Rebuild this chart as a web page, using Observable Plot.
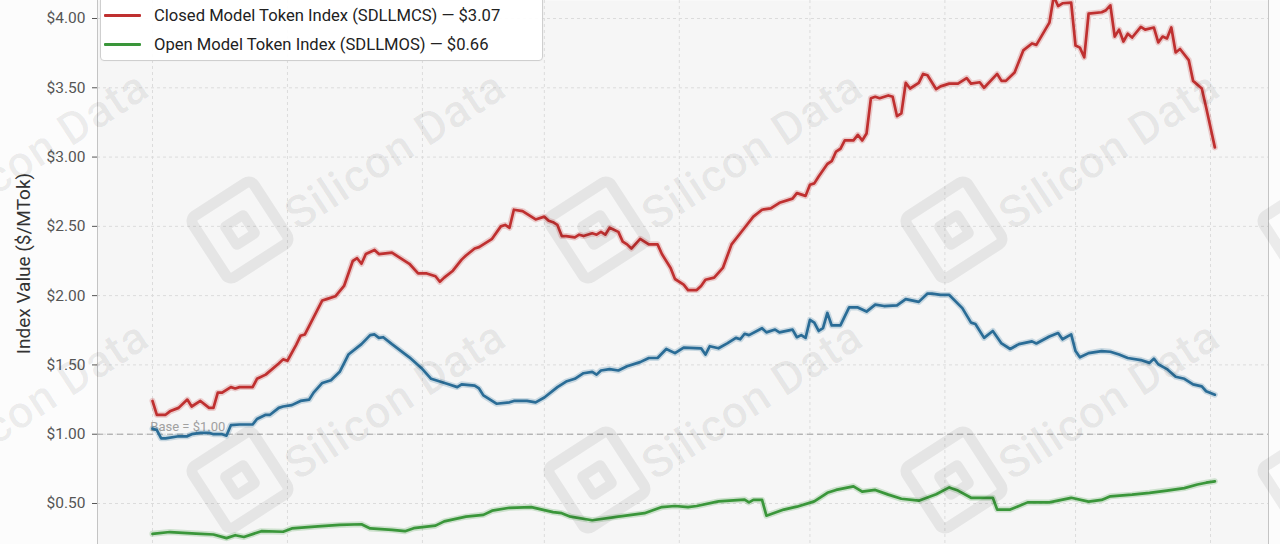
<!DOCTYPE html>
<html>
<head>
<meta charset="utf-8">
<script src="https://cdn.jsdelivr.net/npm/d3@7"></script>
<script src="https://cdn.jsdelivr.net/npm/@observablehq/plot@0.6"></script>
<style>
  html, body { margin: 0; padding: 0; background: #fcfcfc; }
  #wrap { position: relative; width: 1280px; height: 544px; overflow: hidden; font-family: Roboto, "Noto Sans", sans-serif; }
  #chart svg { display: block; }
  #legend { position: absolute; left: 100px; top: -30px; width: 441px; height: 89px; background: rgba(255,255,255,0.92);
            border: 1px solid #cfcfcf; border-radius: 4px; box-shadow: 0 0 2px rgba(0,0,0,0.05); }
  .lg-row { position: absolute; left: 0; height: 20px; display: flex; align-items: center; font-size: 16.6px; color: #222; white-space: nowrap; }
  .lg-sw { width: 37px; height: 3px; margin-left: 3px; margin-right: 13px; border-radius: 1px; }
  #wm { position: absolute; left: 0; top: 0; width: 1280px; height: 544px; pointer-events: none; }
  .wm-text { position: absolute; font-size: 45px; font-weight: 500; color: rgba(0,0,0,0.065); white-space: nowrap; transform: translate(-50%,-50%) rotate(-33deg); font-family: Roboto, sans-serif; letter-spacing: 1px; }
  .wm-logo { position: absolute; width: 62px; height: 62px; border: 11px solid rgba(0,0,0,0.065); border-radius: 12px; transform: translate(-50%,-50%) rotate(-33deg); }
  .wm-logo::after { content: ""; position: absolute; left: 15px; top: 15px; width: 32px; height: 32px; border: 10px solid rgba(0,0,0,0.065); border-radius: 6px; box-sizing: border-box; }
</style>
</head>
<body>
<div id="wrap">
  <div id="chart"></div>
  <div id="wm"></div>
  <div id="legend"></div>
</div>
<script>
// ---- Data (day offsets from 1 Dec; values in $/MTok) ----
const monthDays = [0, 31, 62, 90, 121, 151, 182, 212, 243];
const yTicks = [0.5, 1.0, 1.5, 2.0, 2.5, 3.0, 3.5, 4.0];

const closedDays = [0,1,3,4,6,8,9,11,13,14,15,16,18,19,20,23,24,26,29,30,31,33,34,35,39,40,42,44,46,47,48,49,51,52,55,59,61,63,65,66,67,69,71,72,74,75,78,80,81,82,83,85,86,88,90,91,92,93,94,95,97,98,99,101,102,103,104,105,107,108,109,110,112,114,115,116,117,119,120,122,123,125,126,127,129,131,133,136,138,140,142,144,147,148,150,151,152,153,155,156,157,158,159,161,162,163,164,165,166,167,169,170,171,172,173,174,176,177,178,180,181,183,185,187,188,190,191,194,195,196,198,200,202,203,206,207,208,209,211,212,213,214,215,218,219,220,221,222,223,224,225,227,228,230,231,232,233,234,235,236,238,239,241,242,243,244];
const closedValues = [1.24,1.14,1.14,1.165,1.19,1.25,1.20,1.24,1.19,1.19,1.30,1.30,1.34,1.33,1.34,1.34,1.40,1.43,1.51,1.54,1.53,1.645,1.71,1.72,1.965,1.975,1.995,2.07,2.25,2.27,2.23,2.30,2.33,2.30,2.31,2.23,2.16,2.16,2.14,2.10,2.13,2.18,2.26,2.29,2.34,2.35,2.41,2.50,2.51,2.49,2.62,2.61,2.59,2.55,2.57,2.54,2.53,2.51,2.43,2.43,2.42,2.44,2.43,2.45,2.44,2.46,2.44,2.49,2.46,2.39,2.37,2.34,2.41,2.37,2.37,2.37,2.30,2.20,2.12,2.08,2.04,2.04,2.07,2.115,2.13,2.20,2.37,2.49,2.57,2.62,2.63,2.67,2.70,2.74,2.72,2.80,2.81,2.86,2.95,2.97,3.04,3.06,3.12,3.12,3.16,3.12,3.17,3.425,3.435,3.425,3.445,3.435,3.295,3.315,3.535,3.495,3.535,3.60,3.59,3.49,3.51,3.53,3.53,3.57,3.53,3.54,3.50,3.60,3.55,3.55,3.61,3.77,3.82,3.81,3.97,4.16,4.09,4.11,4.115,3.805,3.79,3.72,4.035,4.045,4.06,4.095,3.87,3.92,3.834,3.89,3.863,3.94,3.92,3.935,3.827,3.87,3.856,3.935,3.755,3.78,3.70,3.55,3.495,3.358,3.213,3.07];

const frontierDays = [0,1,2,3,6,8,9,11,13,14,16,17,18,20,23,24,26,27,29,30,32,34,36,37,39,41,43,45,48,50,51,52,53,55,59,62,64,68,70,71,74,75,76,79,82,83,86,88,90,93,95,97,99,101,102,103,105,107,109,112,114,116,118,120,122,126,127,128,130,132,134,135,136,137,140,141,143,144,147,148,149,150,151,152,153,154,155,156,158,160,162,164,166,168,171,173,176,178,179,181,183,186,188,189,191,193,195,197,199,202,203,206,208,209,211,212,213,215,218,220,222,224,227,229,230,231,233,235,237,239,241,242,244];
const frontierValues = [1.04,1.03,0.97,0.97,0.985,0.985,1.0,1.01,1.01,1.00,1.00,0.99,1.065,1.07,1.07,1.11,1.14,1.14,1.19,1.20,1.21,1.24,1.25,1.30,1.37,1.39,1.45,1.575,1.65,1.715,1.72,1.695,1.70,1.65,1.555,1.47,1.40,1.36,1.34,1.36,1.35,1.33,1.28,1.22,1.23,1.24,1.24,1.23,1.265,1.34,1.38,1.40,1.44,1.45,1.43,1.46,1.47,1.46,1.49,1.52,1.55,1.55,1.615,1.585,1.625,1.62,1.575,1.635,1.62,1.655,1.695,1.685,1.725,1.715,1.765,1.735,1.755,1.735,1.755,1.70,1.715,1.695,1.825,1.805,1.745,1.765,1.875,1.785,1.785,1.915,1.915,1.885,1.935,1.925,1.93,1.975,1.955,2.015,2.015,2.005,2.005,1.91,1.805,1.795,1.695,1.745,1.655,1.615,1.65,1.67,1.655,1.705,1.73,1.685,1.72,1.60,1.555,1.585,1.60,1.595,1.575,1.55,1.535,1.515,1.545,1.505,1.47,1.415,1.40,1.36,1.345,1.31,1.285];

const openDays = [0,4,10,14,17,19,21,25,30,32,38,43,48,50,55,58,60,65,67,72,76,78,82,87,92,94,96,101,107,113,117,120,123,125,130,136,137,138,140,141,145,148,152,155,157,161,163,166,169,172,176,180,183,185,188,193,194,197,201,206,211,215,218,220,225,229,233,237,240,242,244];
const openValues = [0.281,0.294,0.283,0.276,0.25,0.271,0.258,0.30,0.296,0.32,0.335,0.345,0.35,0.32,0.31,0.30,0.322,0.34,0.371,0.405,0.418,0.448,0.469,0.474,0.438,0.43,0.405,0.379,0.405,0.43,0.474,0.482,0.474,0.482,0.515,0.528,0.508,0.526,0.526,0.412,0.456,0.477,0.515,0.577,0.598,0.624,0.585,0.598,0.564,0.534,0.52,0.567,0.616,0.593,0.541,0.541,0.456,0.456,0.508,0.508,0.541,0.513,0.526,0.552,0.564,0.577,0.593,0.611,0.637,0.65,0.66];

const seriesNames = ["Closed Model Token Index (SDLLMCS)", "Frontier Model Token Index", "Open Model Token Index (SDLLMOS)"];
const seriesColors = ["#bf3030", "#2a6c96", "#3a963a"];

const toRows = (days, vals, s) => days.map((d, i) => ({day: d, value: vals[i], series: s}));
const closed = toRows(closedDays, closedValues, seriesNames[0]);
const frontier = toRows(frontierDays, frontierValues, seriesNames[1]);
const open = toRows(openDays, openValues, seriesNames[2]);
const xDomain = [-12.63, 256.32];

const lineMarks = [];
[[closed, 0], [frontier, 1], [open, 2]].forEach(([rows, i]) => {
  lineMarks.push(Plot.line(rows, {x: "day", y: "value", stroke: seriesColors[i], strokeOpacity: 0.22, strokeWidth: 6, clip: true}));
  lineMarks.push(Plot.line(rows, {x: "day", y: "value", stroke: seriesColors[i], strokeWidth: 2.7, clip: true}));
});

const chart = Plot.plot({
  width: 1280, height: 544,
  marginLeft: 97, marginRight: 12, marginTop: 0, marginBottom: 0,
  style: {fontFamily: "Roboto, 'Noto Sans', sans-serif", background: "transparent"},
  x: {type: "linear", domain: xDomain, axis: null},
  y: {domain: [0.204, 4.13], axis: null},
  marks: [
    Plot.frame({fill: "#f6f6f6", stroke: null}),
    Plot.ruleY(yTicks, {stroke: "#dcdcdc", strokeDasharray: "3,3"}),
    Plot.ruleX(monthDays, {stroke: "#dcdcdc", strokeDasharray: "3,3"}),
    Plot.ruleX(xDomain, {stroke: "#c4c4c4", strokeWidth: 1}),
    Plot.ruleY([1], {stroke: "#a0a0a0", strokeDasharray: "6,4", strokeWidth: 1}),
    Plot.text(["Base = $1.00"], {x: closedDays[0] - 0.5, y: 1, dy: -7, textAnchor: "start", fill: "#a0a0a0", fontSize: 13}),
    ...lineMarks,
    Plot.axisY(yTicks, {tickFormat: d => "$" + d.toFixed(2), tickSize: 5, tickPadding: 7, fontSize: 15.5, color: "#555", label: null}),
    Plot.text(["Index Value ($/MTok)"], {frameAnchor: "left", textAnchor: "middle", dx: -74, dy: -9, rotate: -90, fontSize: 19, fill: "#333"})
  ]
});
document.getElementById("chart").append(chart);

// ---- Legend (visible part) ----
const legend = document.getElementById("legend");
[[0, 34], [2, 63]].forEach(([i, top]) => {
  const row = document.createElement("div");
  row.className = "lg-row";
  row.style.top = top + "px";
  const sw = document.createElement("div");
  sw.className = "lg-sw";
  sw.style.background = seriesColors[i];
  const label = document.createElement("span");
  const last = i === 0 ? closedValues[closedValues.length - 1] : openValues[openValues.length - 1];
  label.textContent = seriesNames[i] + " \u2014 $" + last.toFixed(2);
  row.append(sw, label);
  legend.append(row);
});

// ---- Watermark ----
const wm = document.getElementById("wm");
for (let c = -1; c < 4; c++) {
  for (let r = 0; r < 2; r++) {
    const cx = 395 + 357 * c, cy = 150 + 250 * r;
    const t = document.createElement("div");
    t.className = "wm-text";
    t.style.left = cx + "px"; t.style.top = cy + "px";
    t.textContent = "Silicon Data";
    wm.append(t);
    const lg = document.createElement("div");
    lg.className = "wm-logo";
    lg.style.left = (cx - 155) + "px"; lg.style.top = (cy + 80) + "px";
    wm.append(lg);
  }
}
</script>
</body>
</html>
